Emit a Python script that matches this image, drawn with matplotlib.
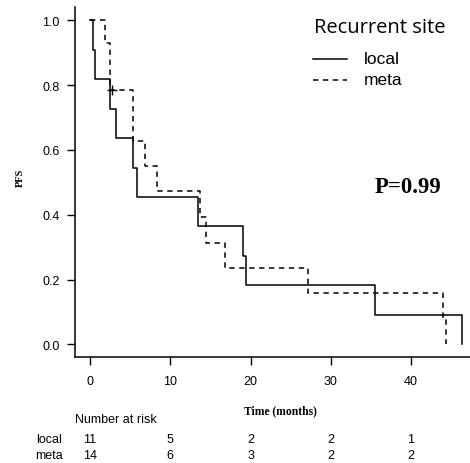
import matplotlib

matplotlib.use("Agg")
import matplotlib.pyplot as plt

W, H = 470, 464

# Kaplan-Meier step curves
local_time = [0, 0.33, 0.66, 2.5, 3.3, 5.3, 5.9, 13.5, 19.1, 19.5, 35.5, 46.3]
local_surv = [1.0, 0.909, 0.818, 0.727, 0.636, 0.545, 0.455, 0.364, 0.273, 0.182, 0.091, 0.0]
meta_time = [0, 1.9, 2.5, 5.4, 6.9, 8.3, 13.7, 14.5, 16.8, 27.2, 44.0, 44.4]
meta_surv = [1.0, 0.929, 0.786, 0.629, 0.550, 0.472, 0.393, 0.314, 0.236, 0.157, 0.079, 0.0]
meta_censor_time = [2.8]
meta_censor_surv = [0.786]

risk_times = [0, 10, 20, 30, 40]
local_risk = [11, 5, 2, 2, 1]
meta_risk = [14, 6, 3, 2, 2]

SANS = ["Liberation Sans", "DejaVu Sans"]
SERIF = ["Liberation Serif", "DejaVu Serif"]
DASH = (3.5, 3)


def fx(px):
    return px / W


def fy(py):
    return 1 - py / H


fig = plt.figure(figsize=(W / 100, H / 100), dpi=100)
ax = fig.add_axes([fx(75), fy(358), fx(470) - fx(75), fy(8) - fy(358)])

ax.step(local_time, local_surv, where="post", color="black", lw=1.1)
ax.step(meta_time, meta_surv, where="post", color="black", lw=1.1, dashes=DASH)
ax.plot(meta_censor_time, meta_censor_surv, "+", color="black", ms=7, mew=1.0)

ax.set_xlim(-1.87, 47.35)
ax.set_ylim(-0.039, 1.041)
ax.set_xticks([0, 10, 20, 30, 40])
ax.set_yticks([0.0, 0.2, 0.4, 0.6, 0.8, 1.0])
ax.set_yticklabels(["0.0", "0.2", "0.4", "0.6", "0.8", "1.0"])
for s in ("top", "right"):
    ax.spines[s].set_visible(False)
for s in ("left", "bottom"):
    ax.spines[s].set_linewidth(1.1)
ax.tick_params(axis="x", length=6, width=1.0, pad=7, labelsize=9)
ax.tick_params(axis="y", length=6, width=1.0, pad=5, labelsize=9)
for lab in ax.get_xticklabels() + ax.get_yticklabels():
    lab.set_family(SANS)

fig.text(fx(20), fy(178), "PFS", rotation=90, ha="center", va="center",
         family=SERIF, weight="bold", fontsize=7.5)
fig.text(fx(280), fy(411), "Time (months)", ha="center", va="center",
         family=SERIF, weight="bold", fontsize=8.4)
fig.text(fx(375), fy(187.5), "P=0.99", ha="left", va="center",
         family=SERIF, weight="bold", fontsize=16.4)

# legend
fig.text(fx(314), fy(28), "Recurrent site", ha="left", va="center",
         family=["Open Sans", "DejaVu Sans"], fontsize=14.5)
fig.add_artist(plt.Line2D([fx(313), fx(347)], [fy(60), fy(60)], color="black", lw=1.1))
fig.add_artist(plt.Line2D([fx(313), fx(347)], [fy(81), fy(81)], color="black", lw=1.1, dashes=DASH))
fig.text(fx(364), fy(60), "local", ha="left", va="center", family=SANS, fontsize=12.5)
fig.text(fx(364), fy(81), "meta", ha="left", va="center", family=SANS, fontsize=12.5)

# number at risk table
fig.text(fx(75), fy(420), "Number at risk", ha="left", va="center", family=SANS, fontsize=9)
fig.text(fx(49.5), fy(440), "local", ha="center", va="center", family=SANS, fontsize=9)
fig.text(fx(49.5), fy(456), "meta", ha="center", va="center", family=SANS, fontsize=9)
for t, n1, n2 in zip(risk_times, local_risk, meta_risk):
    xpix = ax.transData.transform((t, 0))[0]
    fig.text(xpix / W, fy(440), str(n1), ha="center", va="center", family=SANS, fontsize=9)
    fig.text(xpix / W, fy(456), str(n2), ha="center", va="center", family=SANS, fontsize=9)

fig.savefig("out.png", dpi=100)
